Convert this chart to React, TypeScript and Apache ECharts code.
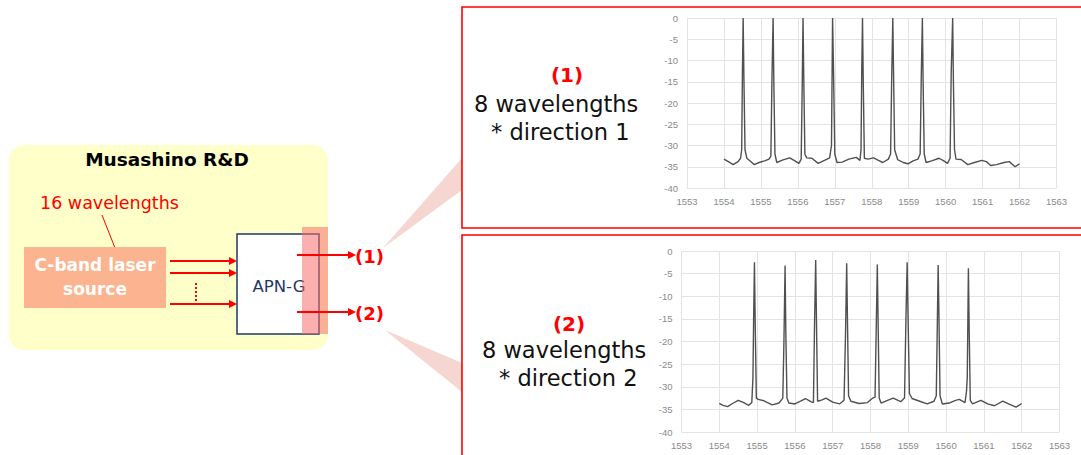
import React, { useEffect, useRef } from "react";
import * as echarts from "echarts";

const xTicks = [1553, 1554, 1555, 1556, 1557, 1558, 1559, 1560, 1561, 1562, 1563];
const yTicks = [0, -5, -10, -15, -20, -25, -30, -35, -40];

// direction 1 spectrum: [wavelength nm, power dB]
const spectrum1: [number, number][] = [
  [1554.0, -33.2], [1554.12, -33.8], [1554.25, -34.5], [1554.38, -33.8], [1554.45, -33.0], [1554.48, -31], [1554.5, -13], [1554.52, 0], [1554.54, -14], [1554.57, -31],
  [1554.62, -33.0], [1554.7, -33.6], [1554.82, -34.5], [1554.95, -34.0], [1555.1, -33.6], [1555.22, -33.2], [1555.27, -32.5], [1555.3, -14], [1555.33, 0], [1555.35, -15], [1555.38, -32],
  [1555.43, -34.0], [1555.6, -33.4], [1555.78, -32.9], [1555.92, -33.6], [1556.03, -34.2], [1556.09, -33.2], [1556.12, -15], [1556.14, 0], [1556.16, -14], [1556.19, -32],
  [1556.24, -32.9], [1556.38, -33.0], [1556.55, -34.2], [1556.72, -33.5], [1556.86, -32.9], [1556.91, -30], [1556.94, 0], [1556.97, -15], [1557.0, -32],
  [1557.06, -34.0], [1557.2, -33.9], [1557.38, -33.2], [1557.58, -32.8], [1557.68, -33.5], [1557.71, -31], [1557.73, -12], [1557.75, 0], [1557.77, -15], [1557.8, -33],
  [1557.9, -33.2], [1558.05, -32.9], [1558.18, -33.5], [1558.3, -34.0], [1558.45, -33.2], [1558.51, -32], [1558.54, -14], [1558.57, 0], [1558.59, -13], [1558.62, -31],
  [1558.7, -33.3], [1558.85, -34.0], [1558.98, -34.3], [1559.12, -33.6], [1559.25, -33.2], [1559.31, -32], [1559.34, -14], [1559.37, 0], [1559.39, -15], [1559.42, -32],
  [1559.47, -34.0], [1559.62, -33.6], [1559.82, -33.0], [1559.95, -33.6], [1560.05, -34.2], [1560.12, -33], [1560.15, -13], [1560.19, 0], [1560.21, -15], [1560.24, -31],
  [1560.28, -33.2], [1560.42, -33.3], [1560.6, -34.5], [1560.78, -34.0], [1560.98, -33.5], [1561.1, -33.8], [1561.22, -34.7], [1561.38, -34.5], [1561.58, -34.0],
  [1561.72, -33.8], [1561.88, -35.0], [1562.0, -34.3],
];

// direction 2 spectrum: [wavelength nm, power dB]
const spectrum2: [number, number][] = [
  [1554.0, -33.7], [1554.1, -34.1], [1554.22, -34.4], [1554.35, -33.7], [1554.5, -33.0], [1554.62, -33.4], [1554.78, -34.1], [1554.86, -33.5], [1554.89, -28], [1554.91, -14], [1554.93, -2.5], [1554.95, -16], [1554.98, -32.5],
  [1555.03, -32.8], [1555.18, -33.1], [1555.4, -34.0], [1555.58, -33.6], [1555.68, -32.5], [1555.71, -20], [1555.74, -3.2], [1555.76, -18], [1555.79, -32.5],
  [1555.84, -33.6], [1556.0, -33.8], [1556.15, -33.2], [1556.28, -32.6], [1556.42, -33.3], [1556.49, -33.5], [1556.52, -16], [1556.55, -2.0], [1556.57, -15], [1556.6, -33.2],
  [1556.72, -32.9], [1556.82, -32.5], [1557.0, -33.4], [1557.18, -33.8], [1557.3, -33.0], [1557.34, -18], [1557.37, -2.7], [1557.39, -15], [1557.42, -32],
  [1557.48, -33.2], [1557.7, -33.7], [1557.92, -33.5], [1558.06, -32.5], [1558.12, -32.3], [1558.15, -18], [1558.18, -3.0], [1558.2, -15], [1558.23, -32.5],
  [1558.28, -33.6], [1558.45, -33.0], [1558.6, -32.5], [1558.8, -33.3], [1558.9, -32.5], [1558.94, -14], [1558.97, -2.5], [1558.99, -13], [1559.03, -31.5],
  [1559.1, -32.6], [1559.3, -33.2], [1559.5, -33.8], [1559.68, -33.2], [1559.74, -32], [1559.77, -15], [1559.79, -3.1], [1559.81, -14], [1559.84, -32],
  [1559.9, -33.8], [1560.08, -33.6], [1560.25, -33.0], [1560.35, -32.8], [1560.5, -33.5], [1560.54, -31], [1560.56, -28], [1560.58, -12], [1560.59, -3.8], [1560.61, -17], [1560.64, -33],
  [1560.7, -33.8], [1560.92, -33.0], [1561.1, -33.8], [1561.28, -34.2], [1561.5, -33.2], [1561.68, -33.9], [1561.85, -34.5], [1562.0, -33.7],
];

const RED = "#ff0000";
const NAVY = "#1f3864";
const FONT = "'DejaVu Sans', Verdana, sans-serif";

function arrow(x1: number, x2: number, y: number) {
  return [
    { type: "line", shape: { x1, y1: y, x2: x2 - 6, y2: y }, style: { stroke: RED, lineWidth: 2.2 } },
    { type: "polygon", shape: { points: [[x2 - 8, y - 4], [x2, y], [x2 - 8, y + 4]] }, style: { fill: RED } },
  ];
}

function txt(x: number, y: number, text: string, font: string, fill: string, align = "center") {
  return { type: "text", x, y, style: { text, font, fill, align, verticalAlign: "middle" } };
}

function axisPair(gridIndex: number) {
  const labelFont = { color: "#8a8a8a", fontSize: 9.5, fontFamily: "'Liberation Sans', Arial, sans-serif" };
  const x = {
    type: "value", gridIndex, min: xTicks[0], max: xTicks[xTicks.length - 1], interval: 1,
    axisLine: { show: false }, axisTick: { show: false },
    axisLabel: { ...labelFont, margin: 8, formatter: (v: number) => String(v) },
    splitLine: { show: true, lineStyle: { color: "#e3e3e3", width: 1 } },
  };
  const y = {
    type: "value", gridIndex, min: yTicks[yTicks.length - 1], max: yTicks[0], interval: 5,
    axisLine: { show: false }, axisTick: { show: false },
    axisLabel: { ...labelFont, margin: 9, formatter: (v: number) => String(v) },
    splitLine: { show: true, lineStyle: { color: "#e3e3e3", width: 1 } },
  };
  return { x, y };
}

export default function App() {
  const ref = useRef<HTMLDivElement>(null);
  useEffect(() => {
    if (!ref.current) return;
    const chart = echarts.init(ref.current, null, { renderer: "svg" });
    const a1 = axisPair(0);
    const a2 = axisPair(1);
    const graphic: any[] = [
      // wedges
      { type: "polygon", shape: { points: [[383, 248], [462, 158], [462, 190]] }, style: { fill: "#f6d6d1" } },
      { type: "polygon", shape: { points: [[385, 330], [462, 363], [462, 392]] }, style: { fill: "#f6d6d1" } },
      // result boxes
      { type: "rect", shape: { x: 462, y: 7, width: 640, height: 221 }, style: { fill: "none", stroke: RED, lineWidth: 1.6 } },
      { type: "rect", shape: { x: 462, y: 235, width: 640, height: 240 }, style: { fill: "none", stroke: RED, lineWidth: 1.6 } },
      txt(567, 75, "(1)", `bold 20px ${FONT}`, RED),
      txt(474, 104, "8 wavelengths", `22.5px ${FONT}`, "#111", "left"),
      txt(491, 132, "* direction 1", `22.5px ${FONT}`, "#111", "left"),
      txt(569, 324, "(2)", `bold 20px ${FONT}`, RED),
      txt(482, 350, "8 wavelengths", `22.5px ${FONT}`, "#111", "left"),
      txt(499, 378, "* direction 2", `22.5px ${FONT}`, "#111", "left"),
      // lab area
      { type: "rect", shape: { x: 9, y: 145, width: 319, height: 205, r: 15 }, style: { fill: "#ffffc9" } },
      txt(167, 159, "Musashino R&D", `bold 18.5px ${FONT}`, "#000"),
      txt(40, 203, "16 wavelengths", `17.5px ${FONT}`, RED, "left"),
      { type: "line", shape: { x1: 102, y1: 215, x2: 115, y2: 248 }, style: { stroke: RED, lineWidth: 1 } },
      { type: "rect", shape: { x: 24, y: 247, width: 142, height: 61 }, style: { fill: "#fbb48f" } },
      txt(95, 265, "C-band laser", `bold 17px ${FONT}`, "#fff"),
      txt(95, 289, "source", `bold 17px ${FONT}`, "#fff"),
      ...arrow(170, 237, 261),
      ...arrow(170, 237, 273),
      ...arrow(170, 237, 304),
      { type: "line", shape: { x1: 196, y1: 283, x2: 196, y2: 302 }, style: { stroke: RED, lineWidth: 2, lineDash: [2, 2] } },
      { type: "rect", shape: { x: 237, y: 234, width: 82, height: 100 }, style: { fill: "#ffffff", stroke: NAVY, lineWidth: 1.5 } },
      txt(279, 286, "APN-G", `16.5px ${FONT}`, NAVY),
      { type: "rect", shape: { x: 302, y: 227, width: 26, height: 107 }, style: { fill: "rgba(248,110,110,0.55)" } },
      ...arrow(297, 356, 255),
      ...arrow(297, 356, 312),
      txt(355, 256, "(1)", `bold 18px ${FONT}`, RED, "left"),
      txt(355, 313, "(2)", `bold 18px ${FONT}`, RED, "left"),
    ];
    chart.setOption({
      animation: false,
      backgroundColor: "#ffffff",
      grid: [
        { left: 687, top: 18, width: 369.5, height: 170 },
        { left: 681.5, top: 251, width: 378, height: 181 },
      ],
      xAxis: [a1.x, a2.x],
      yAxis: [a1.y, a2.y],
      series: [
        { type: "line", xAxisIndex: 0, yAxisIndex: 0, data: spectrum1, showSymbol: false, lineStyle: { color: "#505050", width: 1.4 } },
        { type: "line", xAxisIndex: 1, yAxisIndex: 1, data: spectrum2, showSymbol: false, lineStyle: { color: "#505050", width: 1.4 } },
      ],
      graphic,
    });
    return () => chart.dispose();
  }, []);
  return <div ref={ref} style={{ position: "absolute", left: 0, top: 0, width: 1081, height: 455 }} />;
}
